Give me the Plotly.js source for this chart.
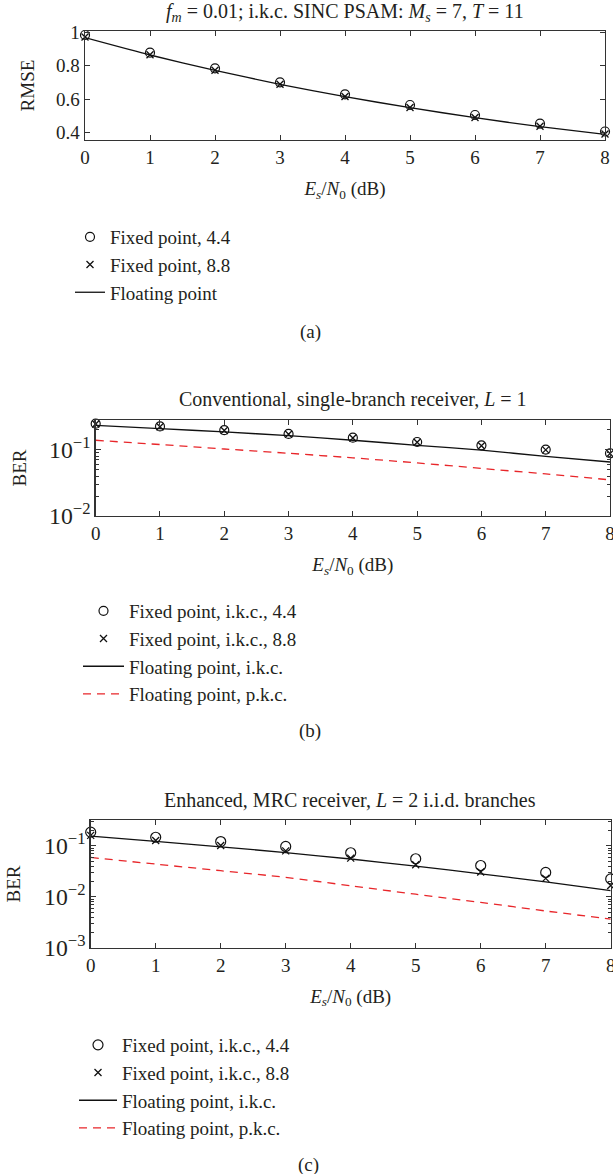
<!DOCTYPE html>
<html>
<head>
<meta charset="utf-8">
<script src="https://cdn.plot.ly/plotly-3.0.1.min.js"></script>
<style>html,body{margin:0;padding:0;background:#fff;}#chart{width:613px;height:1174px;}</style>
</head>
<body>
<div id="chart"></div>
<script>
// ---------- data ----------
const snr = [0, 1, 2, 3, 4, 5, 6, 7, 8];

// (a) RMSE
const rmseFixed44 = [0.984, 0.878, 0.784, 0.700, 0.628, 0.564, 0.504, 0.452, 0.405];
const rmseFixed88 = [0.972, 0.866, 0.772, 0.689, 0.615, 0.549, 0.489, 0.436, 0.390];
const rmseFloat   = [0.968, 0.864, 0.772, 0.688, 0.614, 0.548, 0.488, 0.434, 0.388];

// (b) BER, single branch
const berB_fixed44 = [0.245, 0.223, 0.196, 0.172, 0.151, 0.130, 0.116, 0.100, 0.088];
const berB_fixed88 = [0.243, 0.221, 0.194, 0.170, 0.149, 0.129, 0.114, 0.099, 0.087];
const berB_floatIKC = [0.231, 0.207, 0.184, 0.162, 0.138, 0.116, 0.098, 0.079, 0.065];
const berB_floatPKC = [0.138, 0.119, 0.102, 0.088, 0.075, 0.063, 0.052, 0.043, 0.035];

// (c) BER, MRC L=2
const berC_fixed44 = [0.185, 0.147, 0.121, 0.097, 0.073, 0.0556, 0.041, 0.0300, 0.0224];
const berC_fixed88 = [0.160, 0.127, 0.101, 0.0794, 0.0573, 0.0424, 0.0305, 0.0229, 0.0166];
const berC_floatIKC = [0.155, 0.122, 0.0955, 0.0733, 0.055, 0.0398, 0.0282, 0.0195, 0.0132];
const berC_floatPKC = [0.059, 0.0437, 0.0324, 0.0240, 0.0164, 0.0112, 0.00776, 0.00525, 0.00363];

const titleA = '<i>f<sub>m</sub></i> = 0.01; i.k.c. SINC PSAM: <i>M<sub>s</sub></i> = 7, <i>T</i> = 11';
const titleB = 'Conventional, single-branch receiver, <i>L</i> = 1';
const titleC = 'Enhanced, MRC receiver, <i>L</i> = 2 i.i.d. branches';
const xTitle = '<i>E<sub>s</sub></i>/<i>N</i><sub>0</sub> (dB)';

// ---------- styling ----------
const FONT = 'Liberation Serif, Times New Roman, serif';
const TXT = '#231f20';
const W = 613, H = 1174;
const px = v => v / W;
const py = v => 1 - v / H;

const circ = (x, y, name, xa, ya, lg, sz) => ({
  x, y, name, xaxis: xa, yaxis: ya, legend: lg, type: 'scatter', mode: 'markers',
  cliponaxis: false,
  marker: {symbol: 'circle-open', size: sz, color: '#111', line: {width: 1.2, color: '#111'}}
});
const cross = (x, y, name, xa, ya, lg, sz) => ({
  x, y, name, xaxis: xa, yaxis: ya, legend: lg, type: 'scatter', mode: 'markers',
  cliponaxis: false,
  marker: {symbol: 'x-thin-open', size: sz, color: '#111', line: {width: 1.3, color: '#111'}}
});
const line = (x, y, name, xa, ya, lg, color, dash) => ({
  x, y, name, xaxis: xa, yaxis: ya, legend: lg, type: 'scatter', mode: 'lines',
  line: {color, width: 1.3, dash: dash || 'solid', shape: 'spline', smoothing: 0.6}
});

const traces = [
  circ(snr, rmseFixed44, 'Fixed point, 4.4', 'x', 'y', 'legend', 9),
  cross(snr, rmseFixed88, 'Fixed point, 8.8', 'x', 'y', 'legend', 7),
  line(snr, rmseFloat, 'Floating point', 'x', 'y', 'legend', '#111'),

  circ(snr, berB_fixed44, 'Fixed point, i.k.c., 4.4', 'x2', 'y2', 'legend2', 9),
  cross(snr, berB_fixed88, 'Fixed point, i.k.c., 8.8', 'x2', 'y2', 'legend2', 7),
  line(snr, berB_floatIKC, 'Floating point, i.k.c.', 'x2', 'y2', 'legend2', '#111'),
  line(snr, berB_floatPKC, 'Floating point, p.k.c.', 'x2', 'y2', 'legend2', '#e8262a', '8px,6px'),

  circ(snr, berC_fixed44, 'Fixed point, i.k.c., 4.4', 'x3', 'y3', 'legend3', 10),
  cross(snr, berC_fixed88, 'Fixed point, i.k.c., 8.8', 'x3', 'y3', 'legend3', 7),
  line(snr, berC_floatIKC, 'Floating point, i.k.c.', 'x3', 'y3', 'legend3', '#111'),
  line(snr, berC_floatPKC, 'Floating point, p.k.c.', 'x3', 'y3', 'legend3', '#e8262a', '8px,6px')
];

const axBase = {
  showline: true, linecolor: '#333', linewidth: 1.4, mirror: 'ticks',
  ticks: 'inside', ticklen: 5, tickwidth: 1, tickcolor: '#333',
  showgrid: false, zeroline: false, ticklabeloverflow: 'allow',
  tickfont: {family: FONT, size: 19, color: TXT}
};
const xAx = (dom, anchor) => Object.assign({}, axBase, {
  domain: dom, anchor, range: [0, 8], tickmode: 'linear', tick0: 0, dtick: 1,
  title: {text: xTitle, font: {family: FONT, size: 19, color: TXT}, standoff: 14}
});
const yLog = (dom, anchor, range, so) => Object.assign({}, axBase, {
  domain: dom, anchor, type: 'log', range, dtick: 1, exponentformat: 'power',
  minor: {ticks: 'inside', ticklen: 3, tickcolor: '#333', showgrid: false},
  title: {text: 'BER', font: {family: FONT, size: 19, color: TXT}, standoff: so}
});

const legBase = {
  xanchor: 'left', yanchor: 'top', bgcolor: 'rgba(0,0,0,0)', borderwidth: 0,
  font: {family: FONT, size: 19, color: TXT}, traceorder: 'normal', itemclick: false
};

const layout = {
  width: W, height: H,
  margin: {l: 0, r: 0, t: 0, b: 0},
  paper_bgcolor: '#fff', plot_bgcolor: '#fff',
  font: {family: FONT, color: TXT},
  showlegend: true,
  xaxis: xAx([px(85), px(605)], 'y'),
  yaxis: Object.assign({}, axBase, {
    domain: [py(140), py(31)], anchor: 'x', range: [0.354, 1.008],
    tickmode: 'array', tickvals: [0.4, 0.6, 0.8, 1], ticktext: ['0.4', '0.6', '0.8', '1'],
    title: {text: 'RMSE', font: {family: FONT, size: 19, color: TXT}, standoff: 16}
  }),
  xaxis2: xAx([px(95.7), px(610)], 'y2'),
  yaxis2: yLog([py(516), py(420)], 'x2', [-2, -0.555], 17),
  xaxis3: xAx([px(90.7), px(610.7)], 'y3'),
  yaxis3: yLog([py(947.7), py(820.3)], 'x3', [-3, -0.5], 18),
  legend: Object.assign({}, legBase, {x: px(70), y: py(218)}),
  legend2: Object.assign({}, legBase, {x: px(78), y: py(592), itemwidth: 41}),
  legend3: Object.assign({}, legBase, {x: px(74), y: py(1026), itemwidth: 38}),
  annotations: [
    {text: titleA, x: px(345), y: py(13), xref: 'paper', yref: 'paper', showarrow: false,
     xanchor: 'center', yanchor: 'middle', font: {family: FONT, size: 20, color: TXT}},
    {text: titleB, x: px(353), y: py(399), xref: 'paper', yref: 'paper', showarrow: false,
     xanchor: 'center', yanchor: 'middle', font: {family: FONT, size: 20, color: TXT}},
    {text: titleC, x: px(350), y: py(800), xref: 'paper', yref: 'paper', showarrow: false,
     xanchor: 'center', yanchor: 'middle', font: {family: FONT, size: 20, color: TXT}},
    {text: '(a)', x: px(310), y: py(332), xref: 'paper', yref: 'paper', showarrow: false,
     xanchor: 'center', yanchor: 'middle', font: {family: FONT, size: 19, color: TXT}},
    {text: '(b)', x: px(310), y: py(731), xref: 'paper', yref: 'paper', showarrow: false,
     xanchor: 'center', yanchor: 'middle', font: {family: FONT, size: 19, color: TXT}},
    {text: '(c)', x: px(308), y: py(1165), xref: 'paper', yref: 'paper', showarrow: false,
     xanchor: 'center', yanchor: 'middle', font: {family: FONT, size: 19, color: TXT}}
  ]
};

Plotly.newPlot('chart', traces, layout, {staticPlot: true, displayModeBar: false});
</script>
</body>
</html>
